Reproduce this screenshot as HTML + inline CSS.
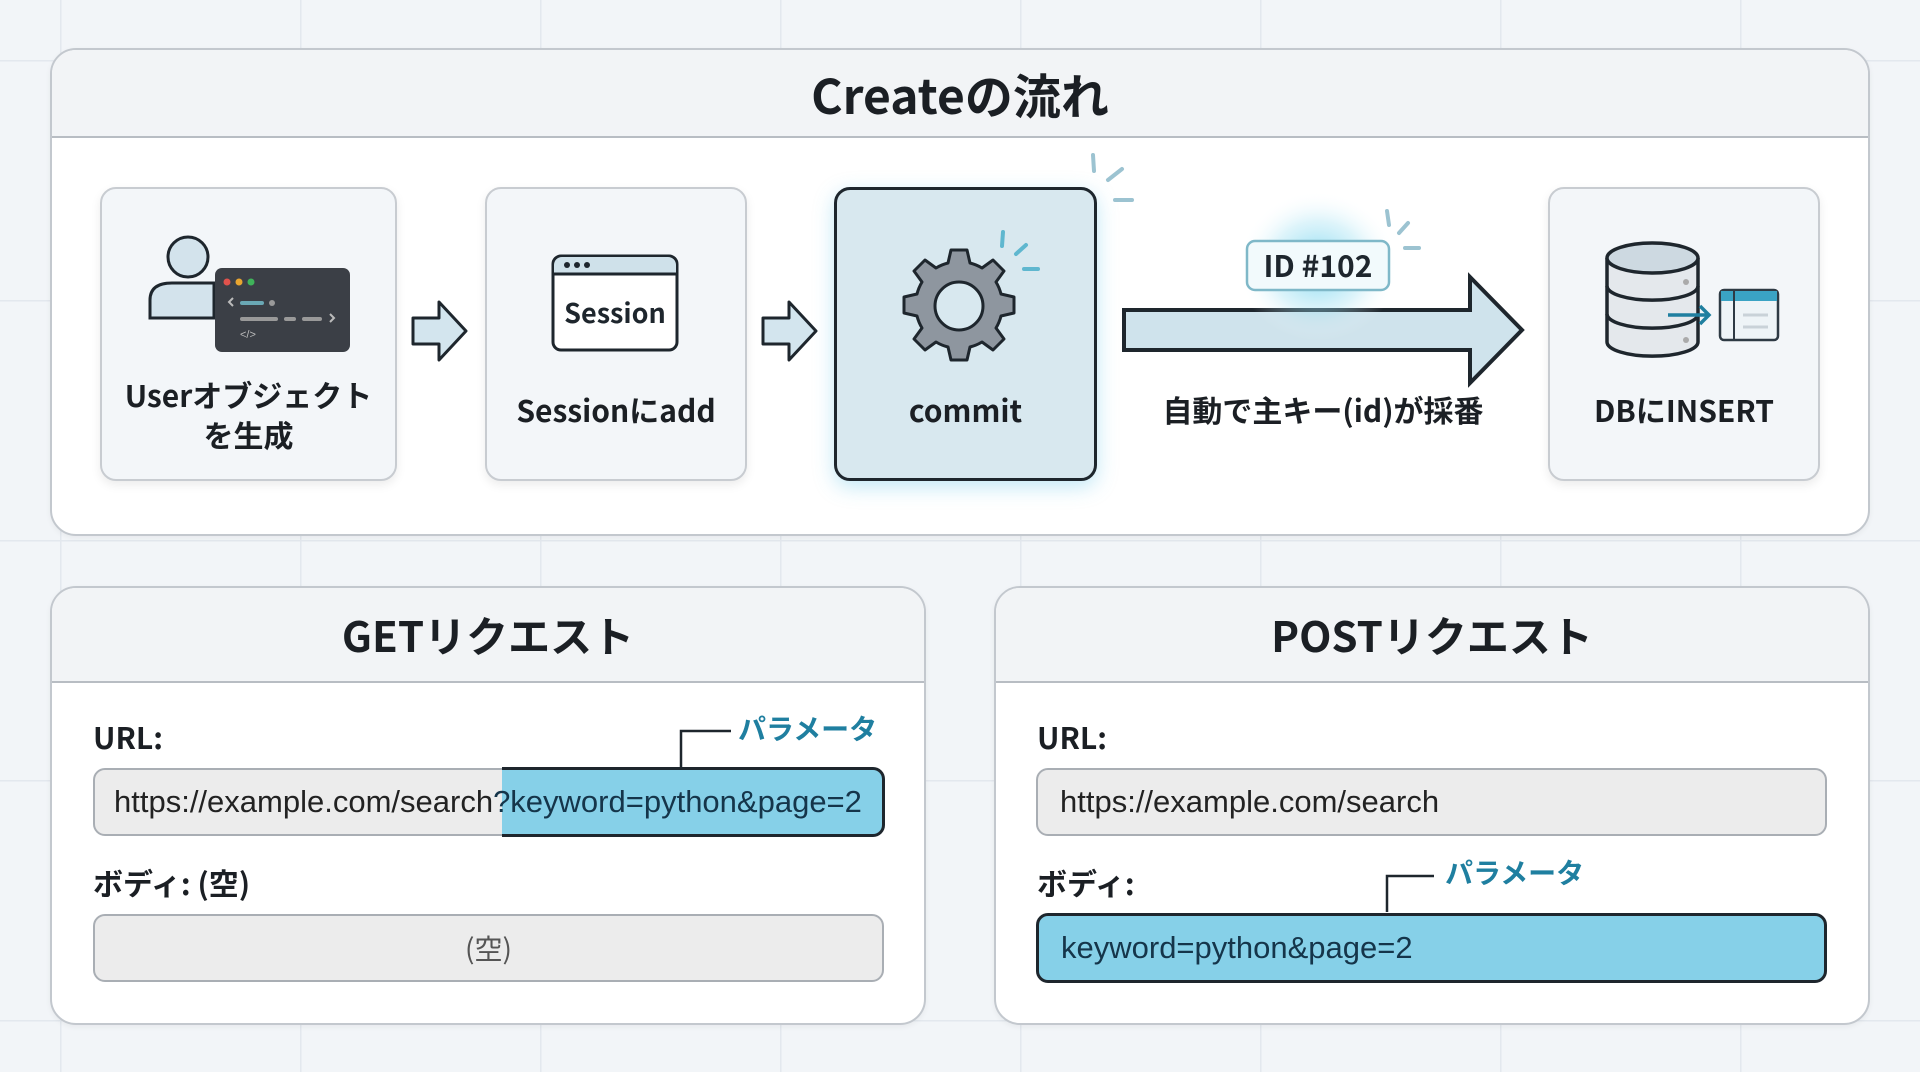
<!DOCTYPE html>
<html><head><meta charset="utf-8"><style>
*{margin:0;padding:0;box-sizing:border-box}
body{width:1920px;height:1072px;overflow:hidden;background:#f2f5f8;font-family:"Liberation Sans","Noto Sans CJK JP",sans-serif;color:#1b1f24;position:relative;
background-image:linear-gradient(#e3e8ee 1.5px,transparent 1.5px),linear-gradient(90deg,#e3e8ee 1.5px,transparent 1.5px);background-size:240px 240px;background-position:60px 60px}
.abs{position:absolute}
.panel{position:absolute;background:#fff;border:2px solid #c3c8ce;border-radius:26px;overflow:hidden;box-shadow:0 2px 6px rgba(0,0,0,.05)}
.ph{position:absolute;left:0;right:0;top:0;background:#f2f4f6;border-bottom:2px solid #b8bdc3;display:flex;align-items:center;justify-content:center;font-weight:bold;font-family:"Noto Sans CJK JP",sans-serif}
.card{position:absolute;background:#f3f6f9;border:2px solid #c8ccd1;border-radius:16px;box-shadow:0 4px 10px rgba(0,0,0,.08)}
.lbl{position:absolute;text-align:center;font-family:"Noto Sans CJK JP",sans-serif;font-weight:bold;font-size:30px;line-height:40px;color:#1b1f24}
.fl{position:absolute;font-family:"Noto Sans CJK JP",sans-serif;font-weight:bold;font-size:30px}
.box{position:absolute;border:2px solid #a9aeb4;border-radius:12px;background:#ececec;font-size:31px;line-height:64px;color:#222;white-space:nowrap}
.param{position:absolute;font-family:"Noto Sans CJK JP",sans-serif;font-weight:bold;font-size:28px;color:#1f7fa0}
</style></head><body>

<div class="panel" style="left:50px;top:48px;width:1820px;height:488px">
 <div class="ph" style="height:88px;font-size:48px">Createの流れ</div>
</div>

<div class="card" style="left:100px;top:187px;width:297px;height:294px"></div>
<div class="card" style="left:485px;top:187px;width:262px;height:294px"></div>
<div class="card" style="left:834px;top:187px;width:263px;height:294px;background:#d8e8ef;border:3px solid #1e262d;box-shadow:0 6px 20px rgba(80,190,230,.35)"></div>
<div class="card" style="left:1548px;top:187px;width:272px;height:294px"></div>

<svg class="abs" style="left:0;top:0" width="1920" height="600">
 <circle cx="188" cy="257" r="20" fill="#d3e3ec" stroke="#1e262d" stroke-width="3"/>
 <path d="M150 318 L150 300 Q150 283 172 283 L214 283 L214 318 Z" fill="#d3e3ec" stroke="#1e262d" stroke-width="3"/>
 <rect x="215" y="268" width="135" height="84" rx="7" fill="#3b3f46"/>
 <circle cx="227" cy="282" r="3.5" fill="#e0524c"/><circle cx="239" cy="282" r="3.5" fill="#e8a530"/><circle cx="251" cy="282" r="3.5" fill="#3fb35a"/>
 <path d="M233 298 l-4 4 4 4" stroke="#bbb" stroke-width="2" fill="none"/>
 <rect x="240" y="301" width="24" height="4" rx="2" fill="#6aa8b5"/><circle cx="272" cy="303" r="3" fill="#999"/>
 <rect x="240" y="317" width="38" height="4" rx="2" fill="#999"/><rect x="284" y="317" width="12" height="4" rx="2" fill="#999"/><rect x="302" y="317" width="20" height="4" rx="2" fill="#999"/>
 <path d="M330 314 l4 4 -4 4" stroke="#bbb" stroke-width="2" fill="none"/>
 <text x="240" y="338" font-size="11" fill="#bbb" font-family="Liberation Sans">&lt;/&gt;</text>
 <path d="M413 318 h26 v-16 l27 29 -27 29 v-16 h-26 z" fill="#d3e5ee" stroke="#1e262d" stroke-width="3" stroke-linejoin="round"/>
 <path d="M763 318 h26 v-16 l27 29 -27 29 v-16 h-26 z" fill="#d3e5ee" stroke="#1e262d" stroke-width="3" stroke-linejoin="round"/>
 <rect x="553" y="256" width="124" height="94" rx="8" fill="#fff" stroke="#1e262d" stroke-width="3"/>
 <path d="M554 273 h122 v-8 a8 8 0 0 0 -8 -8 h-106 a8 8 0 0 0 -8 8 z" fill="#cfe1ea"/>
 <line x1="553" y1="274" x2="677" y2="274" stroke="#1e262d" stroke-width="3"/>
 <circle cx="567" cy="265" r="3" fill="#1e262d"/><circle cx="577" cy="265" r="3" fill="#1e262d"/><circle cx="587" cy="265" r="3" fill="#1e262d"/>
 <text x="615" y="323" font-size="27" text-anchor="middle" font-weight="bold" font-family="Noto Sans CJK JP,sans-serif" fill="#1e262d">Session</text>
 <g transform="translate(959,306)">
  <g fill="#8e969f" stroke="#1e262d" stroke-width="3" stroke-linejoin="round">
   <path d="M-8 -56 h16 l3 13 a44 44 0 0 1 12 5 l11 -8 11 11 -8 11 a44 44 0 0 1 5 12 l13 3 v16 l-13 3 a44 44 0 0 1 -5 12 l8 11 -11 11 -11 -8 a44 44 0 0 1 -12 5 l-3 13 h-16 l-3 -13 a44 44 0 0 1 -12 -5 l-11 8 -11 -11 8 -11 a44 44 0 0 1 -5 -12 l-13 -3 v-16 l13 -3 a44 44 0 0 1 5 -12 l-8 -11 11 -11 11 8 a44 44 0 0 1 12 -5 z"/>
  </g>
  <circle r="24" fill="#d8e8ef" stroke="#1e262d" stroke-width="3"/>
 </g>
 <g stroke="#5fb7cf" stroke-width="4" stroke-linecap="round">
  <line x1="1003" y1="232" x2="1002" y2="246"/><line x1="1016" y1="254" x2="1026" y2="245"/><line x1="1024" y1="269" x2="1038" y2="269"/>
 </g>
 <g stroke="#9cc3d1" stroke-width="4" stroke-linecap="round">
  <line x1="1093" y1="155" x2="1094" y2="171"/><line x1="1108" y1="180" x2="1122" y2="169"/><line x1="1115" y1="200" x2="1132" y2="200"/>
  <line x1="1387" y1="211" x2="1389" y2="225"/><line x1="1399" y1="233" x2="1408" y2="223"/><line x1="1405" y1="248" x2="1419" y2="248"/>
 </g>
 <path d="M1124 310 h346 v-33 l52 53 -52 53 v-33 h-346 z" fill="#cfe3ec" stroke="#1e262d" stroke-width="4" stroke-linejoin="miter"/>
 <defs><radialGradient id="g" cx=".5" cy=".5" r=".5"><stop offset="0" stop-color="#6fd3ef" stop-opacity=".9"/><stop offset=".6" stop-color="#9fe0f2" stop-opacity=".35"/><stop offset="1" stop-color="#fff" stop-opacity="0"/></radialGradient></defs>
 <ellipse cx="1318" cy="266" rx="80" ry="75" fill="url(#g)"/>
 <rect x="1247" y="241" width="142" height="49" rx="8" fill="#f2fafc" stroke="#7fb8c8" stroke-width="2.5"/>
 <text x="1318" y="277" font-size="30" text-anchor="middle" font-weight="bold" font-family="Noto Sans CJK JP,sans-serif" fill="#1e262d">ID #102</text>
 <path d="M1607 258 v84 a45 14 0 0 0 91 0 v-84" fill="#e4e8ec" stroke="#1e262d" stroke-width="3.5"/>
 <path d="M1607 286 a45 14 0 0 0 91 0 M1607 314 a45 14 0 0 0 91 0" fill="none" stroke="#1e262d" stroke-width="3.5"/>
 <ellipse cx="1652.5" cy="258" rx="45.5" ry="15" fill="#cdd9e1" stroke="#1e262d" stroke-width="3.5"/>
 <circle cx="1686" cy="282" r="3" fill="#aaa"/><circle cx="1686" cy="340" r="3" fill="#aaa"/>
 <rect x="1720" y="290" width="58" height="50" rx="4" fill="#eef4f7" stroke="#2e3a44" stroke-width="2.5"/>
 <path d="M1721 291 h56 v10 h-56z" fill="#3aa3c4"/>
 <line x1="1734" y1="291" x2="1734" y2="340" stroke="#2e3a44" stroke-width="2"/>
 <line x1="1743" y1="315" x2="1768" y2="315" stroke="#c9d2d8" stroke-width="3"/><line x1="1743" y1="327" x2="1768" y2="327" stroke="#c9d2d8" stroke-width="3"/>
 <path d="M1668 315 h40 m-8 -9 l9 9 -9 9" stroke="#1f7fa0" stroke-width="3.5" fill="none"/>
</svg>

<div class="lbl" style="left:100px;top:374px;width:297px">Userオブジェクト<br>を生成</div>
<div class="lbl" style="left:485px;top:389px;width:262px">Sessionにadd</div>
<div class="lbl" style="left:834px;top:389px;width:263px">commit</div>
<div class="lbl" style="left:1123px;top:389px;width:400px">自動で主キー(id)が採番</div>
<div class="lbl" style="left:1548px;top:389px;width:272px">DBにINSERT</div>

<div class="panel" style="left:50px;top:586px;width:876px;height:439px">
 <div class="ph" style="height:95px;font-size:42px">GETリクエスト</div>
</div>
<div class="fl" style="left:93px;top:714px">URL:</div>
<div class="box" style="left:93px;top:768px;width:791px;height:68px"></div>
<div class="abs" style="left:502px;top:767px;width:383px;height:70px;background:#86d0e8;border:3px solid #1e262d;border-left:none;border-radius:0 12px 12px 0"></div>
<div class="abs" style="left:114px;top:770px;font-size:31px;line-height:64px;white-space:nowrap;color:#222">https://example.com/search<span style="color:#15354a">?keyword=python&amp;page=2</span></div>
<div class="fl" style="left:93px;top:860px">ボディ: (空)</div>
<div class="box" style="left:93px;top:914px;width:791px;height:68px;text-align:center;color:#555;font-family:'Noto Sans CJK JP',sans-serif;font-size:28px">(空)</div>
<div class="param" style="left:738px;top:708px">パラメータ</div>

<div class="panel" style="left:994px;top:586px;width:876px;height:439px">
 <div class="ph" style="height:95px;font-size:42px">POSTリクエスト</div>
</div>
<div class="fl" style="left:1037px;top:714px">URL:</div>
<div class="box" style="left:1036px;top:768px;width:791px;height:68px;padding-left:22px">https://example.com/search</div>
<div class="fl" style="left:1037px;top:860px">ボディ:</div>
<div class="box" style="left:1036px;top:913px;width:791px;height:70px;padding-left:22px;background:#86d0e8;border:3px solid #1e262d;color:#15354a">keyword=python&amp;page=2</div>
<div class="param" style="left:1445px;top:852px">パラメータ</div>

<svg class="abs" style="left:0;top:0" width="1920" height="1072">
 <path d="M681 767 v-36 h50" stroke="#1e262d" stroke-width="2.5" fill="none"/>
 <path d="M1387 912 v-36 h47" stroke="#1e262d" stroke-width="2.5" fill="none"/>
</svg>
</body></html>
